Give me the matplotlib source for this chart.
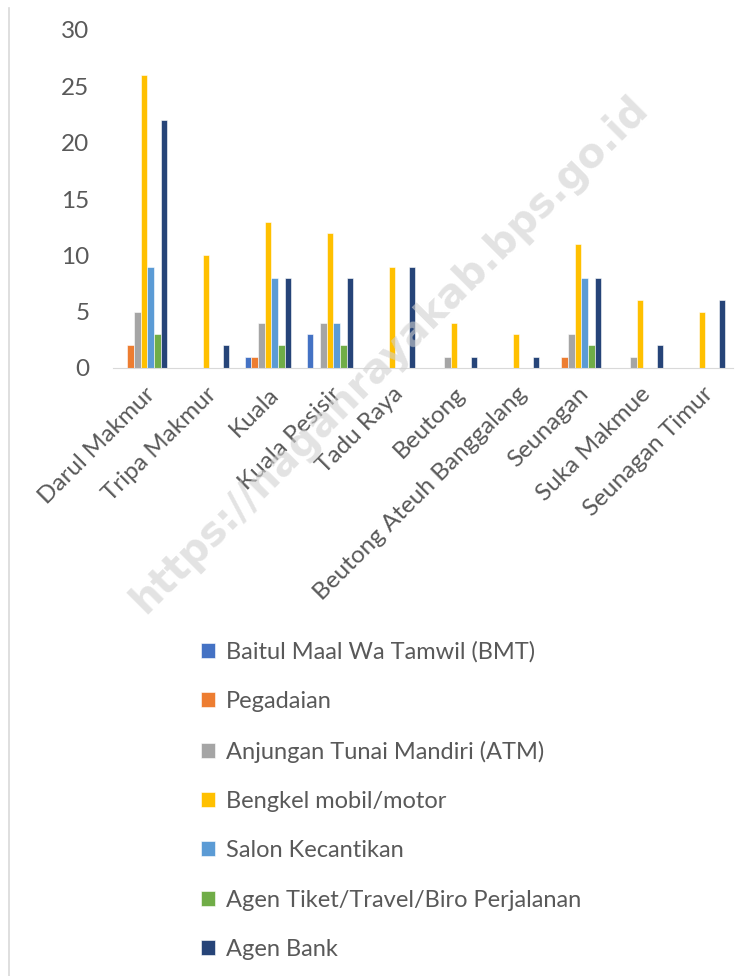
import numpy as np
import matplotlib
matplotlib.use("Agg")
from matplotlib import pyplot as plt
from matplotlib.lines import Line2D

plt.rcParams['font.family'] = ['Lato', 'DejaVu Sans']

districts = ['Darul Makmur', 'Tripa Makmur', 'Kuala', 'Kuala Pesisir', 'Tadu Raya',
             'Beutong', 'Beutong Ateuh Banggalang', 'Seunagan', 'Suka Makmue',
             'Seunagan Timur']
series_names = ['Baitul Maal Wa Tamwil (BMT)', 'Pegadaian', 'Anjungan Tunai Mandiri (ATM)',
                'Bengkel mobil/motor', 'Salon Kecantikan',
                'Agen Tiket/Travel/Biro Perjalanan', 'Agen Bank']
bmt = [0, 0, 1, 3, 0, 0, 0, 0, 0, 0]
pegadaian = [2, 0, 1, 0, 0, 0, 0, 1, 0, 0]
atm = [5, 0, 4, 4, 0, 1, 0, 3, 1, 0]
bengkel = [26, 10, 13, 12, 9, 4, 3, 11, 6, 5]
salon = [9, 0, 8, 4, 0, 0, 0, 8, 0, 0]
tiket = [3, 0, 2, 2, 0, 0, 0, 2, 0, 0]
agen_bank = [22, 2, 8, 8, 9, 1, 1, 8, 2, 6]
colors = ['#4472C4', '#ED7D31', '#A5A5A5', '#FFC000', '#5B9BD5', '#70AD47', '#264478']

text_col = '#595959'
fig = plt.figure(figsize=(7.56, 9.76), dpi=100)
ax = fig.add_axes([113 / 756, 1 - 368 / 976, 620 / 756, 338 / 976])

x = np.arange(len(districts))
w = 0.108
all_series = [bmt, pegadaian, atm, bengkel, salon, tiket, agen_bank]
for i, (vals, name, c) in enumerate(zip(all_series, series_names, colors)):
    ax.bar(x + (i - 3) * w, vals, w, color=c, label=name, edgecolor='white', linewidth=0.4)

ax.set_xlim(-0.5, len(districts) - 0.5)
ax.set_ylim(0, 30)
ax.set_yticks(range(0, 31, 5))
ax.set_xticks(x)
ax.set_xticklabels(districts, rotation=45, ha='right', rotation_mode='anchor',
                   fontsize=17.5, color=text_col)
ax.tick_params(axis='y', length=0, labelsize=17.5, labelcolor=text_col, pad=17)
ax.tick_params(axis='x', length=0, pad=11)
for s in ['top', 'right', 'left']:
    ax.spines[s].set_visible(False)
ax.spines['bottom'].set_color('#d9d9d9')

# left border of chart
fig.add_artist(Line2D([9 / 756, 9 / 756], [0, 1 - 8 / 976], color='#d9d9d9', lw=1.2))

# watermark
fig.text(390 / 756, 1 - 355 / 976, 'https://naganrayakab.bps.go.id', rotation=45,
         ha='center', va='center', fontsize=29, fontweight='bold',
         color='#d0d0d0', alpha=0.6, family='DejaVu Sans')

handles, labels = ax.get_legend_handles_labels()
fig.legend(handles, labels, loc='upper left', bbox_to_anchor=(180 / 756, 1 - 620 / 976),
           frameon=False, fontsize=17, labelcolor=text_col, handlelength=0.6,
           handleheight=0.6, handletextpad=0.45, labelspacing=1.2)

fig.savefig('out.png', dpi=100)
